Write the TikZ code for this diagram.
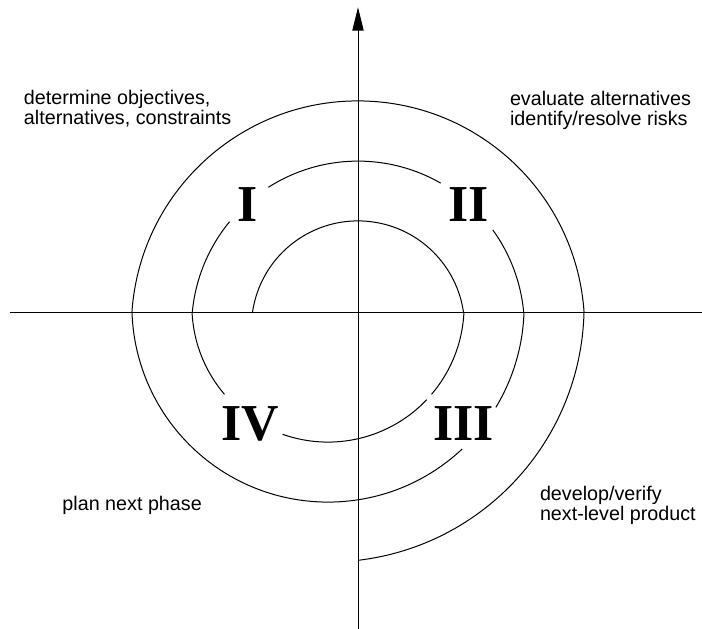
\documentclass[tikz,border=0pt]{standalone}
\usepackage{fontspec}
\setmainfont{Liberation Sans}
\newfontfamily\romanfont{Liberation Serif}
\usetikzlibrary{arrows.meta}

\begin{document}
\begin{tikzpicture}[x=1bp, y=1bp, line width=1bp,
  note/.style={font=\fontsize{19.8}{20.6}\selectfont, align=left,
               anchor=base west, inner sep=0pt},
  quadrant/.style={font=\romanfont\bfseries\fontsize{52}{52}\selectfont,
                   anchor=base, inner sep=0pt}]

  \useasboundingbox (-358,-316) rectangle (344,313);

  % centres of the upper and lower half-turns
  \coordinate (T) at (0,-14.5);
  \coordinate (B) at (-30,7);

  % axes
  \coordinate (west) at (-348,0);
  \coordinate (east) at (344,0);
  \coordinate (south) at (0,-316);
  \coordinate (north) at (0,305.7);
  \draw (west) -- (east);
  \draw[-{Triangle[length=23.4bp, width=11.3bp]}] (south) -- (north);

  % first turn -- upper half, then lower half (broken at III and IV)
  \draw ([shift={(T)}]172.2:106.6) arc[start angle=172.2, end angle=7.8, radius=106.6];
  \draw ([shift={(B)}]-2.95:136.1) arc[start angle=-2.95, end angle=-40.5, radius=136.1];
  \draw ([shift={(B)}]-43.5:136.1) arc[start angle=-43.5, end angle=-109.5, radius=136.1];
  \draw ([shift={(B)}]-139.5:136.1) arc[start angle=-139.5, end angle=-177.05, radius=136.1];

  % second turn -- upper half broken at I and II, lower half broken at III
  \draw ([shift={(T)}]175:166.4) arc[start angle=175, end angle=140.5, radius=166.4];
  \draw ([shift={(T)}]122.6:166.4) arc[start angle=122.6, end angle=60.2, radius=166.4];
  \draw ([shift={(T)}]35.9:166.4) arc[start angle=35.9, end angle=5, radius=166.4];
  \draw ([shift={(B)}]-2.05:196.1) arc[start angle=-2.05, end angle=-31.15, radius=196.1];
  \draw ([shift={(B)}]-46.85:196.1) arc[start angle=-46.85, end angle=-177.95, radius=196.1];

  % third turn -- ends on the vertical axis
  \draw ([shift={(T)}]176.33:226.6) arc[start angle=176.33, end angle=3.67, radius=226.6];
  \draw ([shift={(B)}]-1.57:256.1) arc[start angle=-1.57, end angle=-83.27, radius=256.1];

  % quadrant numbers
  \node[quadrant] (q1) at (-110.5,91.3) {I};
  \node[quadrant] (q2) at (110.3,91.3) {II};
  \node[quadrant] (q3) at (105.3,-127.7) {III};
  \node[quadrant] (q4) at (-108,-127.7) {IV};

  % quadrant captions
  \node[note] (obj) at (-334.5,188.1) {determine objectives,\\alternatives, constraints};
  \node[note] (eval) at (151.5,187.4) {evaluate alternatives\\identify/resolve risks};
  \node[note] (dev) at (181.5,-207.6) {develop/verify\\next-level product};
  \node[note] (plan) at (-296,-197) {plan next phase};

\end{tikzpicture}
\end{document}
